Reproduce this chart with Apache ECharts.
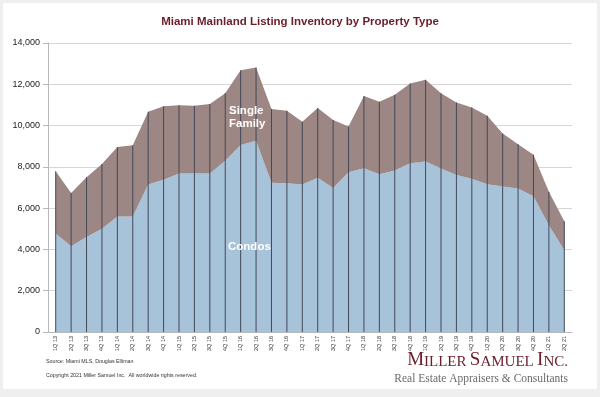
<!DOCTYPE html>
<html>
<head>
<meta charset="utf-8">
<script src="https://cdn.jsdelivr.net/npm/echarts@6/dist/echarts.min.js"></script>
<style>
    html, body { margin: 0; padding: 0; background: #efefef; }
    #frame { position: absolute; left: 3px; top: 3px; width: 594px; height: 386px; background: #fff; }
    #chartContainer { width: 600px; height: 397px; position: absolute; left: 0; top: 0; }
</style>
</head>
<body>
<div id="frame"></div>
<div id="chartContainer"></div>
<script>
const quarters = ['1Q 13', '2Q 13', '3Q 13', '4Q 13', '1Q 14', '2Q 14', '3Q 14', '4Q 14',
    '1Q 15', '2Q 15', '3Q 15', '4Q 15', '1Q 16', '2Q 16', '3Q 16', '4Q 16',
    '1Q 17', '2Q 17', '3Q 17', '4Q 17', '1Q 18', '2Q 18', '3Q 18', '4Q 18',
    '1Q 19', '2Q 19', '3Q 19', '4Q 19', '1Q 20', '2Q 20', '3Q 20', '4Q 20',
    '1Q 21', '2Q 21'];
const condos = [4770, 4150, 4600, 5000, 5600, 5600, 7150, 7370, 7680, 7680, 7680, 8300,
    9060, 9270, 7230, 7210, 7150, 7470, 6970, 7740, 7930, 7640, 7820, 8180,
    8260, 7920, 7600, 7420, 7160, 7050, 6950, 6580, 5170, 3960];
const totals = [7790, 6730, 7500, 8140, 8960, 9050, 10670, 10930, 10990, 10960, 11040, 11570,
    12680, 12810, 10800, 10720, 10190, 10850, 10270, 9960, 11430, 11150, 11490, 12040,
    12220, 11560, 11120, 10880, 10480, 9620, 9090, 8590, 6790, 5360];
const singleFamily = totals.map((t, i) => t - condos[i]);
const yTicks = { min: 0, max: 14000, interval: 2000 };

const chart = echarts.init(document.getElementById('chartContainer'), null, {renderer: 'canvas'});
const option = {
    backgroundColor: 'transparent',
    animation: false,
    title: {
        text: 'Miami Mainland Listing Inventory by Property Type',
        left: 'center',
        top: 11,
        textStyle: {
            color: '#6b1d2a',
            fontSize: 11.5,
            fontWeight: 'bold',
            fontFamily: 'Liberation Sans, Arial, sans-serif'
        }
    },
    grid: {
        left: 48,
        right: 28,
        top: 43,
        bottom: 65
    },
    xAxis: {
        type: 'category',
        data: quarters,
        boundaryGap: true,
        axisLine: { lineStyle: { color: '#b8b8b8' } },
        axisTick: { show: false },
        axisLabel: {
            interval: 0,
            rotate: 90,
            fontSize: 5.5,
            color: '#333',
            margin: 4,
            fontFamily: 'Liberation Sans, Arial, sans-serif'
        }
    },
    yAxis: {
        type: 'value',
        min: yTicks.min,
        max: yTicks.max,
        interval: yTicks.interval,
        axisLine: { show: true, lineStyle: { color: '#b8b8b8' } },
        axisTick: { show: true, length: 5, lineStyle: { color: '#b8b8b8' } },
        splitLine: { lineStyle: { color: '#d6d6d6' } },
        axisLabel: {
            fontSize: 9,
            color: '#222',
            margin: 8,
            fontFamily: 'Liberation Sans, Arial, sans-serif',
            formatter: function (v) {
                return v.toString().replace(/\B(?=(\d{3})+(?!\d))/g, ',');
            }
        }
    },
    series: [
        {
            name: 'Condos',
            type: 'line',
            stack: 'inv',
            data: condos,
            symbol: 'none',
            lineStyle: { width: 0 },
            areaStyle: { color: '#a7c3d9', opacity: 1 },
            z: 2
        },
        {
            name: 'Single Family',
            type: 'line',
            stack: 'inv',
            data: singleFamily,
            symbol: 'none',
            lineStyle: { width: 0 },
            areaStyle: { color: '#9c8784', opacity: 1 },
            z: 2
        },
        {
            name: 'drop',
            type: 'bar',
            data: totals,
            barWidth: 1,
            itemStyle: { color: '#434858' },
            silent: true,
            z: 3
        }
    ],
    graphic: [
        {
            type: 'text',
            left: 229,
            top: 104,
            z: 10,
            style: {
                text: 'Single\nFamily',
                fill: '#fff',
                font: 'bold 11.5px Liberation Sans, Arial, sans-serif',
                align: 'center',
                lineHeight: 13
            }
        },
        {
            type: 'text',
            left: 228,
            top: 241,
            z: 10,
            style: {
                text: 'Condos',
                fill: '#fff',
                font: 'bold 11.5px Liberation Sans, Arial, sans-serif'
            }
        },
        {
            type: 'text',
            left: 46,
            top: 359,
            style: {
                text: 'Source: Miami MLS, Douglas Elliman',
                fill: '#333',
                font: '5.3px Liberation Sans, Arial, sans-serif'
            }
        },
        {
            type: 'text',
            left: 46,
            top: 373,
            style: {
                text: 'Copyright 2021 Miller Samuel Inc.  All worldwide rights reserved.',
                fill: '#333',
                font: '5.3px Liberation Sans, Arial, sans-serif'
            }
        },
        {
            type: 'text',
            right: 32,
            top: 351,
            style: {
                text: '{b|M}{s|ILLER} {b|S}{s|AMUEL} {b|I}{s|NC.}',
                rich: {
                    b: { fontSize: 19, fill: '#6b1d2a', fontFamily: 'Liberation Serif, Times New Roman, serif', verticalAlign: 'bottom' },
                    s: { fontSize: 15, fill: '#6b1d2a', fontFamily: 'Liberation Serif, Times New Roman, serif', verticalAlign: 'bottom' }
                }
            }
        },
        {
            type: 'text',
            right: 32,
            top: 373,
            style: {
                text: 'Real Estate Appraisers & Consultants',
                fill: '#6a6a6a',
                font: '11.5px Liberation Serif, Times New Roman, serif'
            }
        }
    ]
};
chart.setOption(option);
</script>
</body>
</html>
